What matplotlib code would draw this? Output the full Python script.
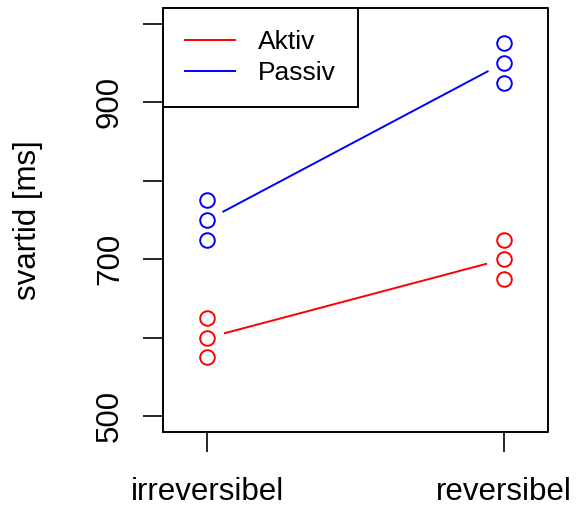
import numpy as np
import matplotlib
matplotlib.use("Agg")
import matplotlib.pyplot as plt

plt.rcParams['font.family'] = ['Liberation Sans', 'DejaVu Sans']

# data
kategorien = ["irreversibel", "reversibel"]
aktiv = [[625, 600, 575], [725, 700, 675]]
passiv = [[775, 750, 725], [975, 950, 925]]
yticks = [500, 600, 700, 800, 900, 1000]
ylabels = ["500", "", "700", "", "900", ""]

W, H = 583, 507
fig = plt.figure(figsize=(W / 100, H / 100), dpi=100)
ax = fig.add_axes([163 / W, (H - 432) / H, (548 - 163) / W, (432 - 8) / H])
ax.set_xlim(0.85, 2.15)
ax.set_ylim(480, 1020)

x = np.arange(1, len(kategorien) + 1)


def gap_line(xs, ys, color, gap=18):
    # like R type="c": line between means, cut short near the points
    p = ax.transData.transform(np.column_stack([xs, ys]))
    d = p[1] - p[0]
    u = d / np.hypot(*d)
    q = np.array([p[0] + u * gap, p[1] - u * gap])
    r = ax.transData.inverted().transform(q)
    ax.plot(r[:, 0], r[:, 1], color=color, lw=1.4)


for vals, col, name in [(aktiv, "red", "Aktiv"), (passiv, "blue", "Passiv")]:
    for xi, v in zip(x, vals):
        ax.plot([xi] * len(v), v, "o", mfc="none", mec=col, ms=10.5, mew=1.4)
    means = [np.mean(v) for v in vals]
    gap_line(x, means, col)
    ax.plot([], [], color=col, lw=1.4, label=name)

ax.set_xticks(x)
ax.set_xticklabels(kategorien, fontsize=22.5)
ax.set_yticks(yticks)
ax.set_yticklabels(ylabels, fontsize=22.5, rotation=90, va="center")
ax.tick_params(axis="both", length=14.4, width=1.2, color="black")
ax.tick_params(axis="x", pad=18)
ax.tick_params(axis="y", pad=13)
ax.set_ylabel("svartid [ms]", fontsize=22.5, va="center")
ax.yaxis.set_label_coords(-0.35, 0.5)

# R style: axes drawn apart from the box
ax.spines["left"].set_bounds(500, 1000)
ax.spines["bottom"].set_bounds(1, 2)
for s in ax.spines.values():
    s.set_visible(False)
ax.plot([0, 0, 1, 1, 0], [0, 1, 1, 0, 0], transform=ax.transAxes, color="black",
        lw=1.4, clip_on=False)

leg = ax.legend(loc="upper left", bbox_to_anchor=(0, 1), borderaxespad=0,
                fancybox=False, edgecolor="black", framealpha=1, fontsize=19,
                handlelength=1.86, handletextpad=0.87, borderpad=0.85,
                labelspacing=0.24)
leg.get_frame().set_linewidth(1.4)

fig.savefig("out.png", dpi=100)
